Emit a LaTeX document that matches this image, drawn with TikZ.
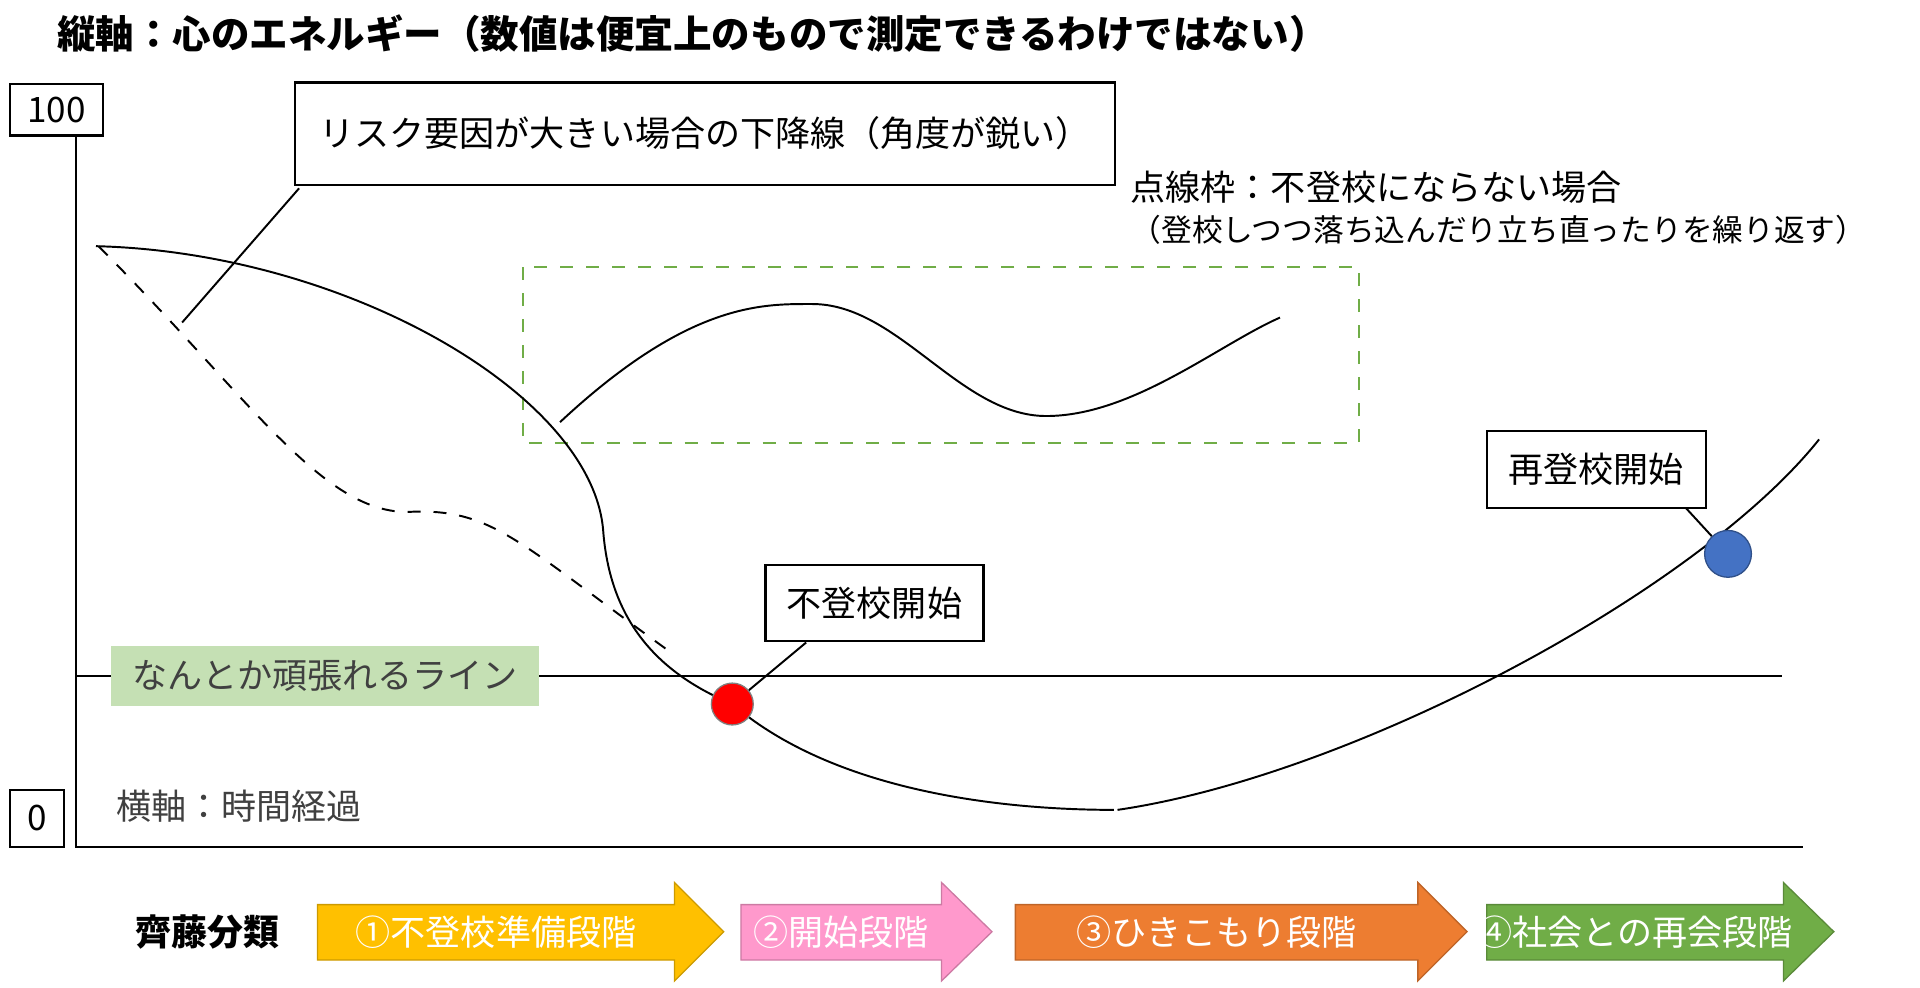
\documentclass[tikz,border=0pt]{standalone}
\usepackage{fontspec}
\setmainfont{Noto Sans CJK JP}
\usetikzlibrary{positioning,calc}
\definecolor{stageyellow}{RGB}{255,192,0}
\definecolor{stagepink}{RGB}{255,153,204}
\definecolor{stageorange}{RGB}{237,125,49}
\definecolor{stagegreen}{RGB}{112,173,71}
\definecolor{linegreen}{RGB}{197,224,180}
\definecolor{framegreen}{RGB}{112,173,71}
\definecolor{dotblue}{RGB}{68,114,196}
\newcommand{\stagearrow}[6]{%
  \draw[fill=#5, draw=#5!80!black, line width=0.3pt]
    (#2,735) -- (#4,735) -- (#4,717) -- (#3,757) -- (#4,797) -- (#4,780) -- (#2,780) -- cycle;
  \node[stagetext] (#1) at ({(#2+#4)/2},757) {#6};}

\begin{document}
\begin{tikzpicture}[x=0.01cm, y=-0.01cm,
    labelbox/.style={draw, line width=0.5pt, inner sep=0pt, fill=white},
    bodytext/.style={font=\fontsize{8.1}{10}\selectfont},
    stagetext/.style={font=\fontsize{8.1}{10}\selectfont, text=white},
    curve/.style={line width=0.45pt},
    leader/.style={line width=0.45pt}
]
    \useasboundingbox (0,0) rectangle (1560,802.7);

    % title and axes
    \node[anchor=west, font=\fontsize{8.9}{10}\selectfont\bfseries] (title) at (34,27)
        {縦軸：心のエネルギー（数値は便宜上のもので測定できるわけではない）};
    \coordinate (origin) at (62,688);
    \coordinate (xend) at (1465,688);
    \draw[line width=0.5pt] (62,110) -- (origin) -- (xend);
    \node[labelbox, minimum width=0.76cm, minimum height=0.42cm, bodytext] (top) at (46,89) {100};
    \node[labelbox, minimum width=0.44cm, minimum height=0.46cm, bodytext] (zero) at (30,665) {0};
    \node[anchor=west, bodytext, text=black!75] (xlabel) at (82,655) {横軸：時間経過};

    % coping line
    \coordinate (lineL) at (62,549);
    \coordinate (lineR) at (1448,549);
    \draw[line width=0.5pt] (lineL) -- (lineR);
    \node[fill=linegreen, minimum width=3.48cm, minimum height=0.43cm, text=black!75, bodytext] (cope) at (264,549)
        {なんとか頑張れるライン};

    % risk label
    \node[labelbox, minimum width=6.66cm, minimum height=0.83cm, bodytext] (risk) at (573,108.5)
        {リスク要因が大きい場合の下降線（角度が鋭い）};
    \coordinate (riskstart) at (243,153);
    \coordinate (riskend) at (148,262);
    \draw[leader] (riskstart) -- (riskend);

    % dotted frame
    \node[anchor=north west, bodytext, inner sep=0pt] (frame1) at (918,138) {点線枠：不登校にならない場合};
    \node[anchor=north west, font=\fontsize{7.1}{9}\selectfont, inner sep=0pt] (frame2) at (918,174)
        {（登校しつつ落ち込んだり立ち直ったりを繰り返す）};
    \draw[framegreen, dashed, line width=0.5pt] (425,217) rectangle (1104,360);

    % curves
    \coordinate (start) at (78,200);
    \coordinate (bottom) at (905,658);
    \draw[curve] (start) .. controls (280,205) and (480,320) .. (490,430)
        .. controls (495,500) and (530,545) .. (595,572)
        .. controls (680,645) and (820,658) .. (bottom);
    \draw[curve] (908,658) .. controls (1100,630) and (1380,480) .. (1478,357);
    \draw[curve, dashed] (80,200) .. controls (200,320) and (260,415) .. (330,416)
        .. controls (400,412) and (420,440) .. (545,530);
    \draw[curve] (455,343) .. controls (560,245) and (620,247) .. (660,247)
        .. controls (730,247) and (780,338) .. (850,338)
        .. controls (920,338) and (990,280) .. (1040,258);

    % events
    \node[labelbox, minimum width=1.77cm, minimum height=0.62cm, bodytext] (stoplabel) at (710.5,490) {不登校開始};
    \node[circle, fill=red, draw=black!50, line width=0.3pt, minimum size=0.34cm, inner sep=0pt] (stop) at (595,572) {};
    \draw[leader] (655,522) -- (stop);
    \node[labelbox, minimum width=1.78cm, minimum height=0.63cm, bodytext] (restartlabel) at (1297,381.5) {再登校開始};
    \node[circle, fill=dotblue, draw=dotblue!70!black, line width=0.3pt, minimum width=0.36cm, minimum height=0.38cm, inner sep=0pt] (restart) at (1404,450) {};
    \draw[leader] (1370,413) -- (restart);

    % stages
    \node[anchor=west, font=\fontsize{8.3}{10}\selectfont\bfseries] (saito) at (98,757) {齊藤分類};
    \stagearrow{s1}{258}{588}{548}{stageyellow}{①不登校準備段階}
    \stagearrow{s2}{602}{806}{765}{stagepink}{②開始段階}
    \stagearrow{s3}{825}{1192}{1152}{stageorange}{③ひきこもり段階}
    \stagearrow{s4}{1208}{1490}{1449}{stagegreen}{④社会との再会段階}
\end{tikzpicture}
\end{document}
